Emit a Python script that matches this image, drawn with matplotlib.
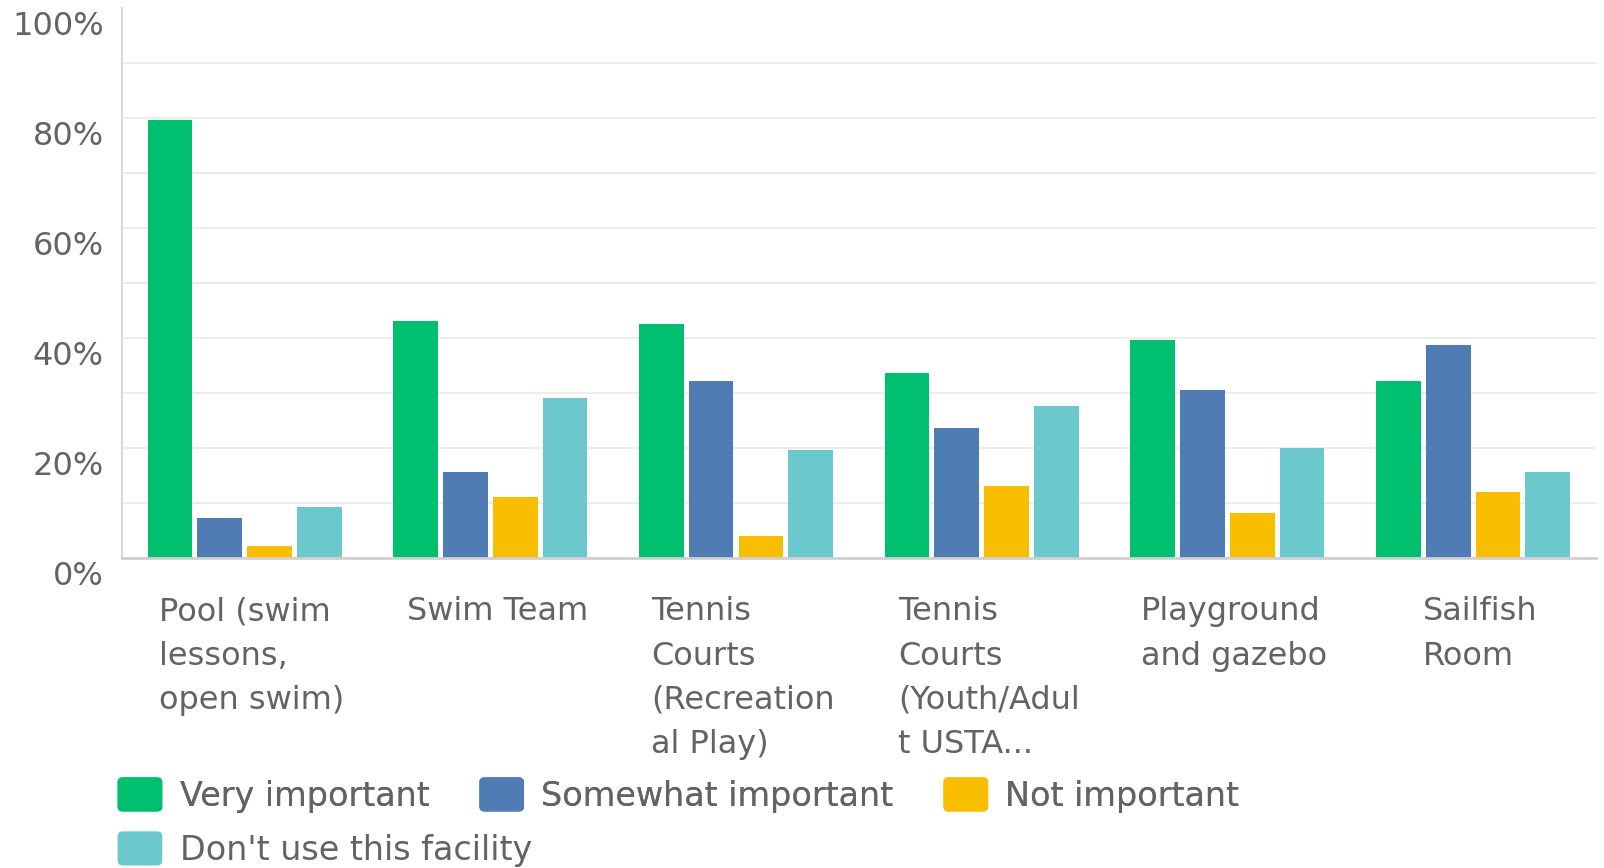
import matplotlib
matplotlib.use("Agg")
import matplotlib.pyplot as plt
import numpy as np
from matplotlib.transforms import ScaledTranslation
from matplotlib.patches import FancyBboxPatch
from matplotlib.legend_handler import HandlerPatch
from matplotlib.ticker import MultipleLocator

categories = ["Pool (swim\nlessons,\nopen swim)", "Swim Team", "Tennis\nCourts\n(Recreation\nal Play)",
              "Tennis\nCourts\n(Youth/Adul\nt USTA...", "Playground\nand gazebo", "Sailfish\nRoom"]
series_names = ["Very important", "Somewhat important", "Not important", "Don't use this facility"]
very_important = [79.6, 43.0, 42.5, 33.6, 39.6, 32.1]
somewhat_important = [7.1, 15.5, 32.1, 23.5, 30.5, 38.6]
not_important = [2.1, 11.0, 4.0, 13.0, 8.1, 12.0]
dont_use = [9.1, 29.0, 19.6, 27.6, 20.0, 15.5]
yticks = [0, 20, 40, 60, 80, 100]
ytick_labels = ["0%", "20%", "40%", "60%", "80%", "100%"]

colors = ["#00BF6F", "#507CB6", "#F9BE00", "#6BC8CD"]
text_color = "#636363"

plt.rcParams['font.family'] = ['DejaVu Sans']

fig = plt.figure(figsize=(16.04, 8.68), dpi=100)
ax = fig.add_axes([121.7/1604, 1-557.5/868, (1596-121.7)/1604, (557.5-7.5)/868])

x = np.arange(len(categories))
step = 0.2025
width = 0.182
containers = []
for i, (vals, c) in enumerate(zip([very_important, somewhat_important, not_important, dont_use], colors)):
    bc = ax.bar(x + (i - 1.5) * step, vals, width=width, color=c, zorder=3, label=series_names[i])
    containers.append(bc)

ax.set_xlim(-0.5, 5.5)
ax.set_ylim(0, 100)
ax.yaxis.set_minor_locator(MultipleLocator(10))
ax.set_yticks(yticks)
ax.set_yticklabels(ytick_labels)
ax.grid(axis='y', which='both', color='#EDEDED', linewidth=1.4, zorder=0)
ax.tick_params(axis='y', which='both', length=0, pad=13, labelsize=23, labelcolor=text_color)
ax.tick_params(axis='x', length=0, pad=28, labelsize=23, labelcolor=text_color)
ax.set_xticks(x)
ax.set_xticklabels(categories)
xoff = ScaledTranslation(7/100, 0, fig.dpi_scale_trans)
for lab in ax.get_xticklabels():
    lab.set_multialignment('left')
    lab.set_linespacing(1.55)
    lab.set_verticalalignment('top')
    lab.set_transform(lab.get_transform() + xoff)

offset = ScaledTranslation(0, -15.5/100, fig.dpi_scale_trans)
for lab in ax.get_yticklabels():
    lab.set_transform(lab.get_transform() + offset)

for s in ['top', 'right']:
    ax.spines[s].set_visible(False)
ax.spines['left'].set_color('#D8D8D8')
ax.spines['left'].set_linewidth(1.5)
ax.spines['bottom'].set_color('#D0D0D0')
ax.spines['bottom'].set_linewidth(2)
ax.spines['left'].set_zorder(4)
ax.spines['bottom'].set_zorder(4)

for tick in ax.yaxis.get_major_ticks():
    if abs(tick.get_loc() - 100) < 1e-6:
        tick.gridline.set_visible(False)


class RoundHandler(HandlerPatch):
    def create_artists(self, legend, orig_handle, xdescent, ydescent, width, height, fontsize, trans):
        p = FancyBboxPatch((-xdescent, -ydescent), width, height,
                           boxstyle="round,pad=0,rounding_size=%f" % (height * 0.15),
                           facecolor=orig_handle.get_facecolor(), edgecolor='none', transform=trans)
        return [p]

handles = [bc.patches[0] for bc in containers]
hmap = {h: RoundHandler() for h in handles}
leg_kw = dict(frameon=False, fontsize=24, handlelength=1.34, handleheight=1.2, handletextpad=0.52,
              columnspacing=1.5, borderpad=0, borderaxespad=0, labelcolor=text_color)
leg1 = fig.legend(handles[:3], series_names[:3], ncol=3, loc='center left',
                  bbox_to_anchor=(117.6/1604, 1-795/868), handler_map=hmap, **leg_kw)
leg2 = fig.legend(handles[3:], series_names[3:], ncol=1, loc='center left',
                  bbox_to_anchor=(117.6/1604, 1-849/868), handler_map=hmap, **leg_kw)
fig.add_artist(leg1)

fig.savefig("out.png", dpi=100)
